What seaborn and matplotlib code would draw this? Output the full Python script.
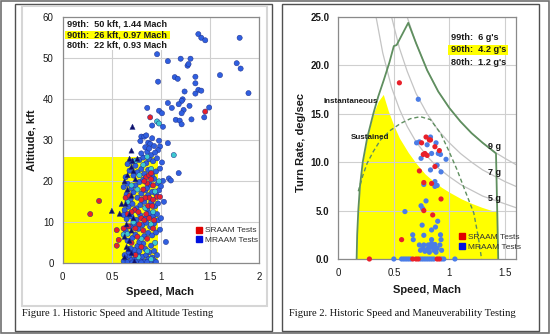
import matplotlib
matplotlib.use("Agg")
import matplotlib.pyplot as plt
import seaborn as sns
import pandas as pd
from matplotlib.patches import Rectangle
from matplotlib.lines import Line2D

# ================= Figure 1 data (Speed, Mach / Altitude, kft) =================
fig1_sraam = [(0.28, 12.0), (0.37, 15.2), (0.55, 8.1), (0.57, 5.7), (0.55, 4.3), (0.89, 35.6), (1.45, 37.0),
              (0.85, 21.0), (0.88, 21.5), (0.90, 20.5), (0.86, 19.5), (0.92, 19.0), (0.82, 18.0), (0.88, 16.0),
              (0.84, 16.0), (0.96, 16.2), (0.99, 16.2), (0.92, 15.5), (0.80, 15.5), (0.87, 14.0), (0.91, 14.0),
              (0.64, 16.0), (0.68, 16.5), (0.73, 13.0), (0.70, 12.5), (0.77, 12.5), (0.85, 12.0), (0.80, 11.0),
              (0.88, 11.0), (0.83, 10.5), (0.78, 9.5), (0.67, 9.0), (0.62, 8.5), (0.74, 8.5), (0.82, 8.0),
              (0.92, 8.5), (0.76, 6.5), (0.86, 6.0), (0.70, 5.0), (0.80, 4.0), (0.74, 2.0), (0.93, 10.5),
              (0.90, 22.0), (0.83, 20.0), (0.66, 12.0)]
fig1_mraam = [(1.38, 55.9), (1.41, 55.0), (1.45, 54.4), (1.80, 55.0), (0.96, 51.0), (1.07, 49.3), (1.20, 49.9),
              (1.27, 48.2), (1.28, 48.6), (1.30, 49.9), (1.35, 45.5), (1.35, 43.9), (1.14, 45.4), (1.17, 45.0),
              (0.97, 44.3), (1.60, 45.9), (1.77, 48.8), (1.81, 47.5), (1.89, 41.5), (1.24, 41.9), (1.38, 42.3),
              (1.41, 42.1), (1.35, 41.4), (1.22, 40.0), (1.21, 39.6), (1.18, 38.8), (1.07, 39.1), (1.29, 38.4),
              (1.49, 38.0), (1.44, 35.6), (1.23, 37.4), (1.21, 36.6), (1.15, 35.0), (1.19, 34.8), (1.21, 33.9),
              (1.31, 35.1), (1.11, 37.9), (0.86, 37.9), (0.98, 37.2), (1.01, 36.6), (1.02, 33.3), (0.91, 33.6),
              (0.80, 30.9), (0.83, 30.9), (0.87, 29.4), (0.89, 29.1), (0.98, 29.9), (1.07, 29.3), (0.99, 28.5),
              (0.97, 27.6), (1.08, 20.7), (1.10, 20.2), (1.18, 22.0), (1.03, 15.0), (1.05, 5.2),
              (0.62, 0.5), (0.64, 1.2), (0.66, 0.3), (0.68, 1.8), (0.70, 0.8), (0.72, 2.5), (0.74, 1.2),
              (0.75, 0.3), (0.77, 2.2), (0.79, 0.9), (0.81, 1.6), (0.83, 0.4), (0.85, 2.0), (0.87, 1.0),
              (0.89, 0.5), (0.91, 1.4), (0.93, 0.7), (0.95, 0.3), (0.67, 2.8), (0.73, 3.3), (0.78, 3.0),
              (0.84, 3.5), (0.88, 2.7), (0.71, 0.2), (0.80, 0.2), (0.86, 0.3), (0.63, 2.0), (0.69, 3.6),
              (0.76, 4.2), (0.82, 4.8), (0.90, 4.3), (0.93, 3.0), (0.96, 2.0),
              (0.66, 5.5), (0.71, 6.2), (0.74, 7.0), (0.78, 5.2), (0.83, 6.6), (0.87, 7.4), (0.91, 6.8),
              (0.95, 7.5), (0.64, 8.0), (0.69, 9.0), (0.73, 9.6), (0.77, 8.4), (0.81, 9.3), (0.85, 9.9),
              (0.89, 8.9), (0.93, 9.7), (0.97, 10.5), (0.65, 10.8), (0.70, 11.4), (0.75, 10.6), (0.79, 11.7),
              (0.84, 11.0), (0.88, 12.2), (0.92, 11.5), (0.96, 12.0), (0.62, 11.8), (0.99, 8.2), (1.00, 11.0),
              (0.63, 13.0), (0.67, 13.8), (0.71, 14.5), (0.75, 13.4), (0.79, 14.2), (0.83, 15.0), (0.86, 13.3),
              (0.90, 14.8), (0.94, 13.9), (0.97, 14.6), (0.65, 16.8), (0.69, 15.6), (0.72, 17.3), (0.76, 16.0),
              (0.80, 17.0), (0.84, 17.8), (0.87, 16.6), (0.91, 17.4), (0.95, 16.9), (0.98, 17.8), (0.62, 18.6),
              (0.66, 19.4), (0.70, 18.3), (0.74, 19.0), (0.78, 19.8), (0.82, 20.4), (0.86, 18.4), (0.89, 19.2),
              (0.93, 20.6), (0.97, 19.5), (1.00, 18.8), (1.02, 20.1),
              (0.64, 21.0), (0.68, 22.6), (0.72, 21.4), (0.76, 22.2), (0.80, 23.0), (0.83, 21.8), (0.87, 22.8),
              (0.91, 21.6), (0.95, 22.4), (0.99, 23.1), (0.66, 24.2), (0.70, 24.8), (0.74, 23.8), (0.78, 25.2),
              (0.82, 25.8), (0.85, 24.4), (0.88, 25.4), (0.92, 24.9), (0.96, 25.6), (1.01, 24.6), (0.80, 26.8),
              (0.86, 27.2), (0.90, 26.4), (0.94, 27.0), (0.84, 28.3), (0.88, 28.0), (0.93, 28.6), (0.79, 29.8),
              (0.91, 30.5), (0.85, 31.2)]
fig1_other = [(0.96, 34.6), (0.98, 34.1), (1.13, 26.4), (0.74, 25.0), (0.82, 24.0), (0.78, 21.5), (0.90, 23.0),
              (0.86, 26.0), (0.76, 18.0), (0.94, 17.5), (0.66, 15.0), (0.84, 13.5), (0.72, 10.0), (0.90, 9.5),
              (0.62, 7.0), (0.66, 7.2), (0.80, 6.0), (0.94, 5.0), (0.86, 3.0), (0.77, 1.5), (0.90, 1.0),
              (0.70, 19.0), (0.92, 12.5), (0.98, 20.0)]
fig1_tri = [(0.71, 33.3), (0.70, 27.5), (0.71, 25.0), (0.68, 25.5), (0.70, 23.5), (0.66, 21.5), (0.63, 20.0),
            (0.66, 18.0), (0.70, 16.5), (0.64, 14.5), (0.60, 14.5), (0.58, 12.1), (0.50, 12.8), (0.68, 12.0),
            (0.72, 11.0), (0.65, 9.5), (0.70, 8.0), (0.63, 6.5), (0.68, 5.5), (0.65, 4.0), (0.70, 2.5),
            (0.63, 1.5), (0.73, 0.5), (0.67, 3.5), (0.74, 20.5), (0.72, 22.5), (0.76, 25.5)]
fig1_box_mach = [0.0, 0.97]
fig1_box_kft = 26
fig1_stats = ["99th:  50 kft, 1.44 Mach", "90th:  26 kft, 0.97 Mach", "80th:  22 kft, 0.93 Mach"]
fig1_xticks = [0, 0.5, 1, 1.5, 2]
fig1_xticklabels = ["0", "0.5", "1", "1.5", "2"]
fig1_yticks = [0, 10, 20, 30, 40, 50, 60]

# ================= Figure 2 data (Speed, Mach / Turn Rate, deg/sec) =================
fig2_sraam = [(0.55, 18.2), (0.79, 12.6), (0.82, 12.3), (0.83, 12.3), (0.75, 12.0), (0.87, 11.6), (0.91, 11.2),
              (0.78, 10.9), (0.80, 10.7), (0.765, 10.8), (0.87, 9.55), (0.73, 9.1), (0.77, 7.9), (0.84, 7.8),
              (0.925, 6.2), (0.77, 5.0), (0.85, 4.55), (0.57, 2.0), (0.28, 0.0), (0.67, 0.0), (0.70, 0.0),
              (0.72, 0.0), (0.89, 0.0), (0.91, 0.0)]
fig2_mraam = [(0.72, 16.5), (0.705, 12.0), (0.73, 12.1), (0.83, 12.6), (0.88, 12.0), (0.80, 11.8), (0.92, 10.8),
              (0.745, 10.4), (0.84, 10.9), (0.90, 10.9), (0.97, 10.3), (0.83, 9.2), (0.89, 9.7), (0.925, 9.0),
              (0.77, 7.7), (0.87, 8.0), (0.89, 7.6), (0.87, 7.5), (0.79, 6.0), (0.60, 4.9), (0.745, 5.5),
              (0.76, 5.2), (0.895, 3.9), (0.755, 3.5), (0.84, 3.0), (0.875, 3.3), (0.67, 2.5), (0.77, 2.45),
              (0.92, 2.5), (0.675, 2.0), (0.84, 2.0), (0.925, 2.0), (0.73, 1.45), (0.77, 1.45), (0.81, 1.45),
              (0.915, 1.45), (0.76, 1.1), (0.80, 1.0), (0.83, 1.2), (0.86, 0.9), (0.89, 1.1), (0.78, 0.8),
              (0.82, 0.7), (0.85, 1.3), (0.88, 0.7), (0.74, 0.9), (0.93, 0.9), (0.84, 1.6), (0.87, 1.5),
              (0.50, 0.0), (0.57, 0.0), (0.59, 0.0), (0.61, 0.0), (0.63, 0.0), (0.65, 0.0), (0.74, 0.0),
              (0.76, 0.0), (0.78, 0.0), (0.80, 0.0), (0.82, 0.0), (0.84, 0.0), (0.86, 0.0), (0.93, 0.0),
              (0.95, 0.0), (1.05, 0.0)]
fig2_g_mach = [0.34, 0.40, 0.48, 0.55, 0.62, 0.70, 0.80, 0.90, 1.00, 1.10, 1.20, 1.30, 1.40, 1.50, 1.60]
fig2_5g = [25.0, 21.3, 17.7, 15.5, 13.7, 12.1, 10.6, 9.4, 8.5, 7.7, 7.1, 6.5, 6.1, 5.7, 5.3]
fig2_7g_mach = [0.48, 0.55, 0.62, 0.70, 0.80, 0.90, 1.00, 1.10, 1.20, 1.30, 1.40, 1.50, 1.60]
fig2_7g = [25.0, 21.8, 19.4, 17.1, 15.0, 13.3, 12.0, 10.9, 10.0, 9.2, 8.6, 8.0, 7.5]
fig2_9g_mach = [0.62, 0.70, 0.80, 0.90, 1.00, 1.10, 1.20, 1.30, 1.40, 1.50, 1.60]
fig2_9g = [25.0, 22.3, 19.5, 17.3, 15.6, 14.2, 13.0, 12.0, 11.1, 10.4, 9.75]
fig2_inst_mach = [0.165, 0.17, 0.18, 0.195, 0.22, 0.26, 0.315, 0.36, 0.41, 0.46, 0.50, 0.525, 0.63,
                  0.70, 0.80, 0.90, 1.00, 1.10, 1.20, 1.30, 1.40, 1.42, 1.44]
fig2_inst = [0.0, 2.5, 5.0, 7.5, 10.0, 12.5, 15.0, 16.8, 18.5, 20.3, 22.0, 22.1, 24.4,
             22.3, 19.5, 17.3, 15.6, 14.2, 13.0, 12.0, 11.1, 10.9, 0.0]
fig2_sust_mach = [0.18, 0.22, 0.26, 0.315, 0.38, 0.47, 0.56, 0.65, 0.74, 0.83, 0.92, 0.99, 1.07, 1.14,
                  1.22, 1.26, 1.29]
fig2_sust = [7.0, 8.6, 9.9, 11.1, 12.3, 13.3, 14.0, 14.5, 14.7, 14.4, 13.0, 11.3, 9.2, 7.1, 4.75, 2.3, 0.0]
fig2_fill_mach = [0.165, 0.17, 0.18, 0.195, 0.22, 0.26, 0.315, 0.36, 0.405, 0.45, 0.50, 0.55, 0.63, 0.70,
                  0.78, 0.86, 0.93, 1.00, 1.11, 1.20, 1.29, 1.37, 1.435]
fig2_fill = [0.0, 2.5, 5.0, 7.5, 10.0, 12.5, 15.0, 16.3, 17.0, 15.3, 13.8, 12.5, 11.0, 9.9,
             8.8, 8.0, 7.4, 6.9, 6.2, 5.75, 5.35, 5.05, 4.85]
fig2_stats = ["99th:  6 g's", "90th:  4.2 g's", "80th:  1.2 g's"]
fig2_xticks = [0, 0.5, 1, 1.5]
fig2_xticklabels = ["0", "0.5", "1", "1.5"]
fig2_yticks = [0, 5, 10, 15, 20, 25]
fig2_yticklabels = ["0.0", "5.0", "10.0", "15.0", "20.0", "25.0"]

# ================= drawing =================
sns.set_theme(style="white")
plt.rcParams["font.family"] = ["Liberation Sans", "DejaVu Sans"]
W, H = 550, 334
fig = plt.figure(figsize=(W / 100, H / 100), dpi=100)
fig.patch.set_facecolor("white")

RED = "#e8202a"
BLUE = "#2f5fe0"
BLUE2 = "#4b7de6"
CYAN = "#3cc8d0"
NAVY = "#10106a"
YEL = "#ffff00"
GRID = "#cfcfcf"
GREEN = "#5f8f5f"
TXT = "#1a1a1a"


def frect(x0, y0, x1, y1, **kw):
    fig.add_artist(Rectangle((x0 / W, 1 - y1 / H), (x1 - x0) / W, (y1 - y0) / H,
                             transform=fig.transFigure, fill=False, **kw))


frect(1, 1, 549, 333, ec="#707070", lw=1.2)
frect(14.5, 3.5, 272, 331, ec="#505050", lw=1.0)
frect(281.5, 3.5, 539, 331, ec="#505050", lw=1.0)
frect(21.6, 6, 267, 306, ec="#d6d6d6", lw=1.5)


def frame(ax):
    ax.set_facecolor("white")
    ax.set_axisbelow(True)
    ax.grid(True, color=GRID, lw=0.8)
    for s in ax.spines.values():
        s.set_color("#8a8a8a")
        s.set_linewidth(0.9)
        s.set_visible(True)
    ax.tick_params(length=0, pad=6.5, labelsize=7, colors=TXT)


def to_df(pairs, group):
    return pd.DataFrame({"mach": [p[0] for p in pairs], "val": [p[1] for p in pairs], "grp": group})


# ---------- Figure 1 ----------
ax1 = fig.add_axes([62.7 / W, 1 - 263.3 / H, 196.6 / W, 246 / H])
frame(ax1)
ax1.fill_between(fig1_box_mach, 0, fig1_box_kft, color=YEL, lw=0, zorder=0.3)
df1 = pd.concat([to_df(fig1_mraam, "MRAAM"), to_df(fig1_other, "Other"),
                 to_df(fig1_sraam, "SRAAM"), to_df(fig1_tri, "Tri")], ignore_index=True)
sns.scatterplot(data=df1, x="mach", y="val", hue="grp", style="grp",
                palette={"MRAAM": BLUE, "Other": CYAN, "SRAAM": RED, "Tri": NAVY},
                markers={"MRAAM": "o", "Other": "o", "SRAAM": "o", "Tri": "^"},
                s=14, edgecolor="#1f2f8a", linewidth=0.35, legend=False, ax=ax1, zorder=3)
ax1.set_xlim(0, 2)
ax1.set_ylim(0, 60)
ax1.set_xticks(fig1_xticks, fig1_xticklabels)
ax1.set_yticks(fig1_yticks)
ax1.set_xlabel("Speed, Mach", fontsize=8, fontweight="bold", color=TXT)
ax1.set_ylabel("Altitude, kft", fontsize=8, fontweight="bold", color=TXT)
ax1.xaxis.set_label_coords(0.495, -0.096)
ax1.yaxis.set_label_coords(-0.135, 0.5)

ax1.add_patch(Rectangle((0.0, 0.867), 0.546, 0.133, transform=ax1.transAxes,
                        fc="white", ec="none", zorder=1.5))
ax1.add_patch(Rectangle((0.012, 0.912), 0.534, 0.034, transform=ax1.transAxes,
                        fc=YEL, ec="none", zorder=1.6))
for txt, yy in zip(fig1_stats, [0.973, 0.929, 0.887]):
    ax1.text(0.022, yy, txt, transform=ax1.transAxes, fontsize=6.6, fontweight="bold",
             color=TXT, va="center", ha="left", zorder=4)

h1 = [Line2D([], [], marker="s", ls="", color="#e00000", markersize=4),
      Line2D([], [], marker="s", ls="", color="#0010e0", markersize=4)]
ax1.legend(h1, ["SRAAM Tests", "MRAAM Tests"], loc="lower left", bbox_to_anchor=(0.655, 0.06),
           frameon=False, fontsize=6, handlelength=0.7, handletextpad=0.4, labelspacing=0.25,
           borderpad=0, labelcolor="#333333")

# ---------- Figure 2 ----------
ax2 = fig.add_axes([338.3 / W, 1 - 259 / H, 177.7 / W, 242 / H])
frame(ax2)
ax2.fill_between(fig2_fill_mach, 0, fig2_fill, color=YEL, lw=0, zorder=0.3)
for xs, ys in [(fig2_g_mach, fig2_5g), (fig2_7g_mach, fig2_7g), (fig2_9g_mach, fig2_9g)]:
    sns.lineplot(x=xs, y=ys, color="#c4c4c4", lw=0.9, sort=False, estimator=None, ax=ax2, zorder=1)
sns.lineplot(x=fig2_inst_mach, y=fig2_inst, color=GREEN, lw=1.3, sort=False, estimator=None,
             ax=ax2, zorder=2)
sns.lineplot(x=fig2_sust_mach, y=fig2_sust, color=GREEN, lw=1.0, sort=False, estimator=None,
             ax=ax2, zorder=2, linestyle=(0, (3, 2)))
df2 = pd.concat([to_df(fig2_mraam, "MRAAM"), to_df(fig2_sraam, "SRAAM")], ignore_index=True)
sns.scatterplot(data=df2, x="mach", y="val", hue="grp",
                palette={"MRAAM": BLUE2, "SRAAM": RED},
                s=14, linewidth=0, legend=False, ax=ax2, zorder=3, clip_on=False)
ax2.set_xlim(0, 1.6)
ax2.set_ylim(0, 25)
ax2.set_xticks(fig2_xticks, fig2_xticklabels)
ax2.set_yticks(fig2_yticks, fig2_yticklabels)
for lab in ax2.get_yticklabels():
    lab.set_fontweight("bold")
ax2.set_xlabel("Speed, Mach", fontsize=8, fontweight="bold", color=TXT)
ax2.set_ylabel("Turn Rate, deg/sec", fontsize=8, fontweight="bold", color=TXT)
ax2.xaxis.set_label_coords(0.497, -0.107)
ax2.yaxis.set_label_coords(-0.182, 0.48)

ax2.text(-0.135, 16.3, "Instantaneous", fontsize=5.8, fontweight="bold", color=TXT,
         va="center", ha="left", clip_on=False, zorder=4)
ax2.text(0.115, 12.5, "Sustained", fontsize=5.8, fontweight="bold", color=TXT,
         va="center", ha="left", zorder=4)
for lab, yy in [("9 g", 11.6), ("7 g", 8.9), ("5 g", 6.2)]:
    ax2.text(1.35, yy, lab, fontsize=6.5, fontweight="bold", color=TXT, va="center", ha="left", zorder=4)

ax2.add_patch(Rectangle((0.617, 0.843), 0.338, 0.041, transform=ax2.transAxes,
                        fc=YEL, ec="none", zorder=1.6))
for txt, yy in zip(fig2_stats, [0.917, 0.864, 0.814]):
    ax2.text(0.634, yy, txt, transform=ax2.transAxes, fontsize=6.6, fontweight="bold",
             color=TXT, va="center", ha="left", zorder=4)

h2 = [Line2D([], [], marker="s", ls="", color="#e00000", markersize=4),
      Line2D([], [], marker="s", ls="", color="#0010e0", markersize=4)]
ax2.legend(h2, ["SRAAM Tests", "MRAAM Tests"], loc="lower left", bbox_to_anchor=(0.655, 0.015),
           frameon=False, fontsize=6, handlelength=0.7, handletextpad=0.4, labelspacing=0.25,
           borderpad=0, labelcolor="#333333")

# ---------- captions ----------
fig.text(21.6 / W, 1 - 313 / H, "Figure 1. Historic Speed and Altitude Testing",
         fontsize=7.6, family=["Liberation Serif", "DejaVu Serif"], color="#111111", va="center")
fig.text(289 / W, 1 - 313 / H, "Figure 2. Historic Speed and Maneuverability Testing",
         fontsize=7.6, family=["Liberation Serif", "DejaVu Serif"], color="#111111", va="center")

fig.savefig("out.png", dpi=100)
